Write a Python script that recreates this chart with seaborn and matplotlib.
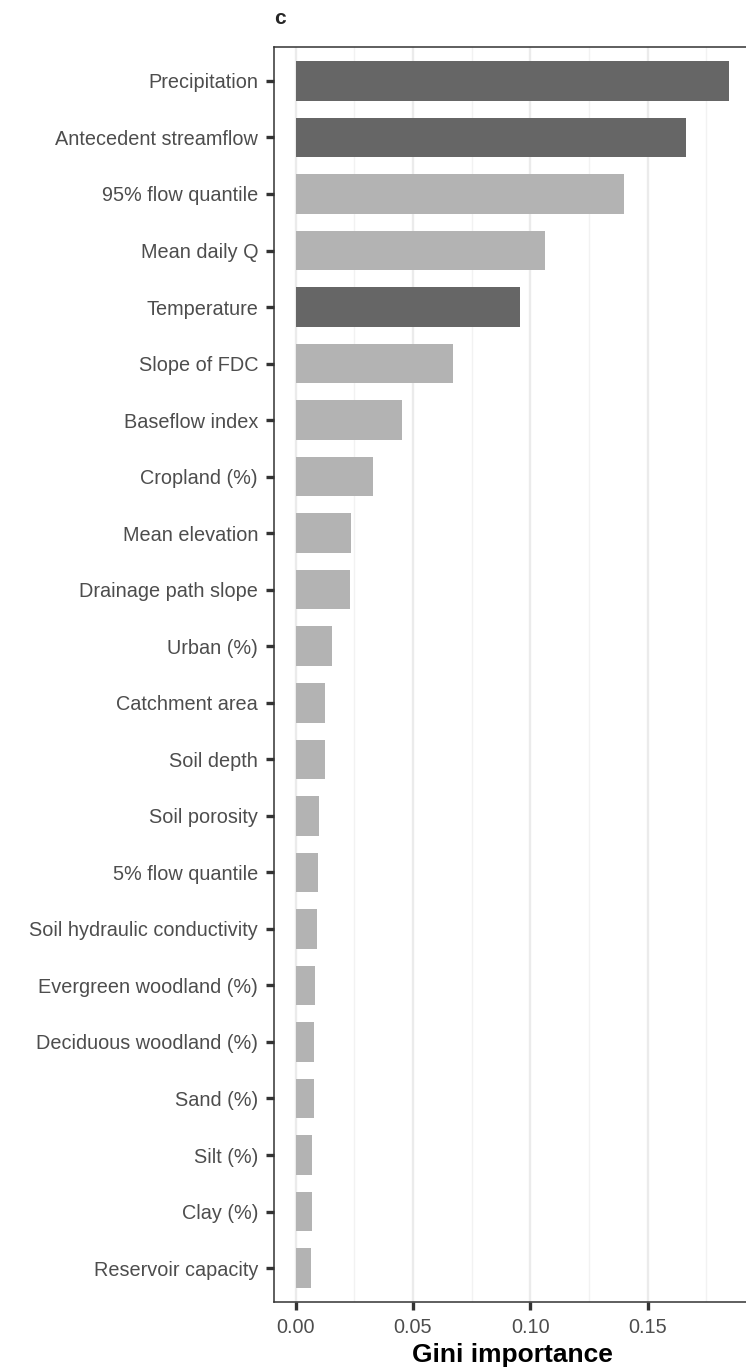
import matplotlib
matplotlib.use("Agg")
import matplotlib.pyplot as plt
from matplotlib.ticker import MultipleLocator
import seaborn as sns
import pandas as pd

# Random-forest feature importance (Gini), sorted from most to least important
features = [
    "Precipitation", "Antecedent streamflow", "95% flow quantile", "Mean daily Q",
    "Temperature", "Slope of FDC", "Baseflow index", "Cropland (%)",
    "Mean elevation", "Drainage path slope", "Urban (%)", "Catchment area",
    "Soil depth", "Soil porosity", "5% flow quantile", "Soil hydraulic conductivity",
    "Evergreen woodland (%)", "Deciduous woodland (%)", "Sand (%)", "Silt (%)",
    "Clay (%)", "Reservoir capacity",
]
importance = [
    0.1846, 0.1664, 0.1401, 0.1061,
    0.0958, 0.0672, 0.0454, 0.0331,
    0.0234, 0.0230, 0.0155, 0.0127,
    0.0124, 0.0101, 0.0094, 0.0090,
    0.0084, 0.0077, 0.0077, 0.0070,
    0.0070, 0.0066,
]
# Time-varying drivers versus static catchment attributes
dynamic_vars = ["Precipitation", "Antecedent streamflow", "Temperature"]
var_type = ["Dynamic" if f in dynamic_vars else "Static" for f in features]

df = pd.DataFrame({"feature": features, "importance": importance, "type": var_type})

sns.set_theme(style="white")
plt.rcParams["font.family"] = ["Liberation Sans", "DejaVu Sans"]

W, H = 746, 1369
fig = plt.figure(figsize=(W / 100, H / 100), dpi=100)
left, right_px, top, bottom = 274, 750.4, 47, 1302
ax = fig.add_axes([left / W, 1 - bottom / H, (right_px - left) / W, (bottom - top) / H])

sns.barplot(
    data=df, y="feature", x="importance", hue="type", order=features,
    palette={"Dynamic": "#666666", "Static": "#b3b3b3"},
    width=0.7, dodge=False, legend=False, ax=ax, zorder=3, linewidth=0,
)

ax.set_xlim(-0.00923, 0.1938)
ax.set_ylim(len(features) - 0.4, -0.6)

# Grid: major and minor vertical lines only
ax.xaxis.set_major_locator(MultipleLocator(0.05))
ax.xaxis.set_minor_locator(MultipleLocator(0.025))
ax.grid(False)
ax.grid(True, axis="x", which="major", color="#ebebeb", linewidth=1.7, zorder=0)
ax.grid(True, axis="x", which="minor", color="#f2f2f2", linewidth=0.95, zorder=0)
ax.set_axisbelow(True)

ax.set_xticks([0.0, 0.05, 0.10, 0.15])
ax.set_xticklabels(["0.00", "0.05", "0.10", "0.15"])

for side in ["left", "bottom", "top", "right"]:
    ax.spines[side].set_color("#333333")
    ax.spines[side].set_linewidth(1.1)
    ax.spines[side].set_visible(True)

ax.tick_params(axis="both", which="major", length=6, width=2.4, color="#333333",
               labelsize=14.3, labelcolor="#4d4d4d", pad=5.5, left=True, bottom=True)
ax.tick_params(axis="x", which="minor", length=0)

ax.set_ylabel("")
ax.set_xlabel("Gini importance", fontsize=19, fontweight="bold", color="black", labelpad=4)

fig.text(left / W, 1 - 24 / H, "c", fontsize=15, fontweight="bold", ha="left", va="baseline")

fig.savefig("out.png", dpi=100)
